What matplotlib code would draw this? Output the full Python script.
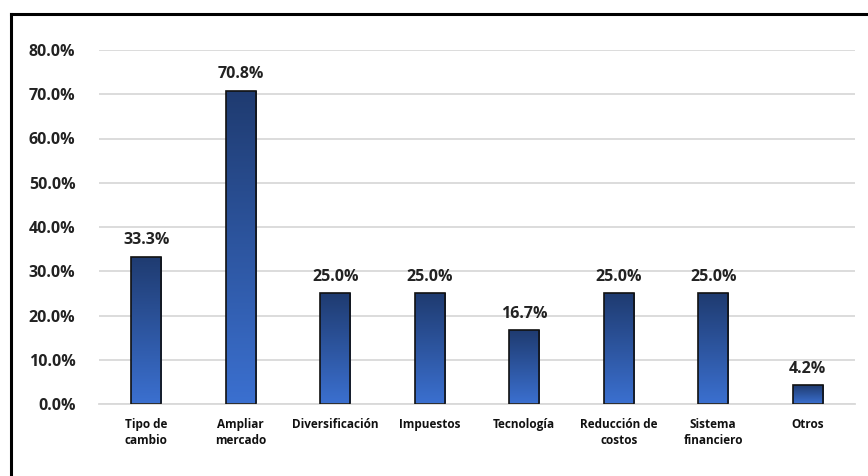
import matplotlib
matplotlib.use("Agg")
import matplotlib.pyplot as plt
import numpy as np
from matplotlib.lines import Line2D
from matplotlib.colors import LinearSegmentedColormap

categories = ["Tipo de\ncambio", "Ampliar\nmercado", "Diversificación", "Impuestos",
              "Tecnología", "Reducción de\ncostos", "Sistema\nfinanciero", "Otros"]
values = [0.333, 0.708, 0.25, 0.25, 0.167, 0.25, 0.25, 0.042]
yticks = [0.0, 0.1, 0.2, 0.3, 0.4, 0.5, 0.6, 0.7, 0.8]

plt.rcParams['font.family'] = ['Open Sans', 'DejaVu Sans']

fig = plt.figure(figsize=(8.68, 4.76), dpi=100)
ax = fig.add_axes([99/868, 1-404/476, (855-99)/868, (404-50)/476])

x = np.arange(len(categories))
width = 0.32
bars = ax.bar(x, values, width=width, color='none', edgecolor='#111111', linewidth=1.2, zorder=3)

cmap = LinearSegmentedColormap.from_list('g', ['#3B70D0', '#1F3B70'])
grad = np.linspace(0, 1, 256).reshape(-1, 1)
for b in bars:
    x0, y0 = b.get_x(), b.get_y()
    w, h = b.get_width(), b.get_height()
    im = ax.imshow(grad, cmap=cmap, aspect='auto', origin='lower',
                   extent=[x0, x0 + w, y0, y0 + h], zorder=2, interpolation='bilinear')
    im.set_clip_path(b)

for xi, v in zip(x, values):
    ax.annotate(f"{v*100:.1f}%", (xi, v), xytext=(0, 6), textcoords='offset points',
                ha='center', va='bottom', fontsize=11.5, fontweight='bold', color='#222222')

ax.set_xlim(-0.5, len(categories) - 0.5)
ax.set_ylim(0, 0.8)
ax.set_yticks(yticks)
ax.set_yticklabels([f"{t*100:.1f}%" for t in yticks], fontsize=11.5, fontweight='bold', color='#222222')
ax.set_xticks(x)
ax.set_xticklabels(categories, fontsize=8.5, fontweight='bold', color='#111111', linespacing=1.35)
ax.tick_params(axis='both', length=0)
ax.tick_params(axis='y', pad=17)
ax.tick_params(axis='x', pad=10)
ax.yaxis.grid(True, color='#D9D9D9', linewidth=1.3, zorder=0)
ax.set_axisbelow(True)
for s in ['top', 'right', 'left']:
    ax.spines[s].set_visible(False)
ax.spines['bottom'].set_color('#D9D9D9')
ax.spines['bottom'].set_linewidth(1.3)

# outer frame (left and top)
fig.add_artist(Line2D([10.5/868, 10.5/868], [0, 1-13.5/476], transform=fig.transFigure, color='black', linewidth=2.2))
fig.add_artist(Line2D([10.5/868, 1], [1-13.5/476, 1-13.5/476], transform=fig.transFigure, color='black', linewidth=2.2))

fig.savefig("out.png", dpi=100)
